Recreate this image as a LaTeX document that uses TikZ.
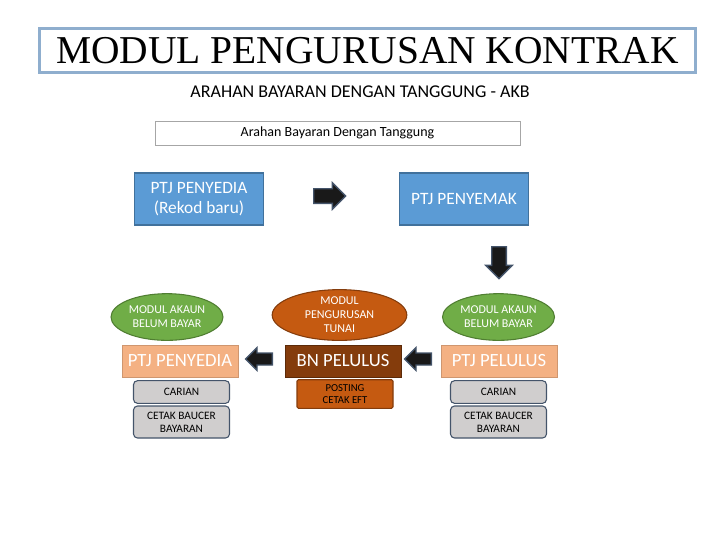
\documentclass[tikz,border=0pt]{standalone}
\usepackage{fontspec}
\setmainfont{Carlito}
\newfontfamily\titlefont{Liberation Serif}
\usetikzlibrary{positioning, shapes.geometric, shapes.arrows}
\definecolor{ptjblue}{HTML}{5B9BD5}
\definecolor{ptjblueline}{HTML}{41719C}
\definecolor{akaungreen}{HTML}{70AD47}
\definecolor{akaungreenline}{HTML}{507E32}
\definecolor{tunaiorange}{HTML}{C55A11}
\definecolor{pelulusbrown}{HTML}{843C0C}
\definecolor{salmon}{HTML}{F4B183}
\definecolor{carigray}{HTML}{D0CECE}
\definecolor{slateline}{HTML}{44546A}
\definecolor{titleline}{HTML}{8FAECE}

\begin{document}
\begin{tikzpicture}[
      x=0.75pt, y=-0.75pt,
      every node/.style={font=\small},
      titlebox/.style={draw=titleline, line width=2pt, minimum width=492pt, minimum height=33pt, font=\titlefont\fontsize{29.6}{31}\selectfont},
      headbox/.style={draw=gray!70, minimum width=274pt, minimum height=18pt, font=\fontsize{10.5}{12}\selectfont},
      bluebox/.style={draw=ptjblueline, line width=0.8pt, fill=ptjblue, text=white, minimum width=97pt, minimum height=39pt, align=center, font=\fontsize{13}{15}\selectfont},
      akaun/.style={ellipse, draw=akaungreenline, line width=0.8pt, fill=akaungreen, text=white, minimum width=84pt, minimum height=35pt, inner sep=0pt, align=center, font=\fontsize{9}{10.5}\selectfont},
      tunai/.style={akaun, draw=pelulusbrown, fill=tunaiorange, minimum width=101pt, minimum height=37pt},
      lulusbox/.style={draw=salmon!85!black, fill=salmon, text=white, minimum width=87pt, minimum height=24pt, font=\fontsize{14}{15}\selectfont},
      bnbox/.style={lulusbox, draw=pelulusbrown!70!black, fill=pelulusbrown},
      caribox/.style={draw=slateline, line width=0.8pt, fill=carigray, rounded corners=3pt, minimum width=72pt, minimum height=17pt, align=center, font=\fontsize{8.5}{10}\selectfont},
      postbox/.style={caribox, draw=pelulusbrown, fill=tunaiorange, minimum width=72pt, minimum height=21pt, rounded corners=1pt, font=\fontsize{8}{9.5}\selectfont},
      blockarrow/.style={single arrow, draw=slateline, line width=1pt, fill=black!90, inner sep=5pt, single arrow head extend=4.5pt, minimum height=24pt, minimum width=19pt},
      smallarrow/.style={blockarrow, inner sep=4pt, single arrow head extend=4pt, minimum height=20pt, minimum width=16pt},
    ]
    \useasboundingbox (0,0) rectangle (720,540);
    % heading
    \node[titlebox] (title) at (367.5,50.5) {MODUL PENGURUSAN KONTRAK};
    \node[font=\fontsize{13.5}{15}\selectfont] (subtitle) at (360,92) {ARAHAN BAYARAN DENGAN TANGGUNG - AKB};
    \node[headbox] (arahan) at (337.5,133) {Arahan Bayaran Dengan Tanggung};

    % top row
    \node[bluebox] (penyediabaru) at (199,199) {PTJ PENYEDIA\\(Rekod baru)};
    \node[bluebox] (penyemak) at (464,199) {PTJ PENYEMAK};
    \node[blockarrow] (arrowright) at (326,196) {};
    \node[blockarrow, rotate=-90] (arrowdown) at (499,259) {};

    % modules
    \node[akaun] (akaunleft) at (167,317) {MODUL AKAUN\\BELUM BAYAR};
    \node[tunai] (tunai) at (339.5,315) {MODUL\\PENGURUSAN\\TUNAI};
    \node[akaun] (akaunright) at (498.5,317) {MODUL AKAUN\\BELUM BAYAR};

    % approval row
    \node[lulusbox] (penyedia) at (180,361) {PTJ PENYEDIA};
    \node[bnbox] (bnpelulus) at (343,361) {BN PELULUS};
    \node[lulusbox] (ptjpelulus) at (499,361) {PTJ PELULUS};
    \node[smallarrow, rotate=180] (arrowleft) at (262,359) {};
    \node[smallarrow, rotate=180] (arrowleftb) at (421,359) {};

    % functions
    \node[caribox] (carileft) at (181.5,392) {CARIAN};
    \node[caribox, minimum height=24pt] (cetakleft) at (181.5,422) {CETAK BAUCER\\BAYARAN};
    \node[postbox] (posting) at (345,394) {POSTING\\CETAK EFT};
    \node[caribox] (cariright) at (498.5,392) {CARIAN};
    \node[caribox, minimum height=24pt] (cetakright) at (498.5,422) {CETAK BAUCER\\BAYARAN};
  \end{tikzpicture}
\end{document}
